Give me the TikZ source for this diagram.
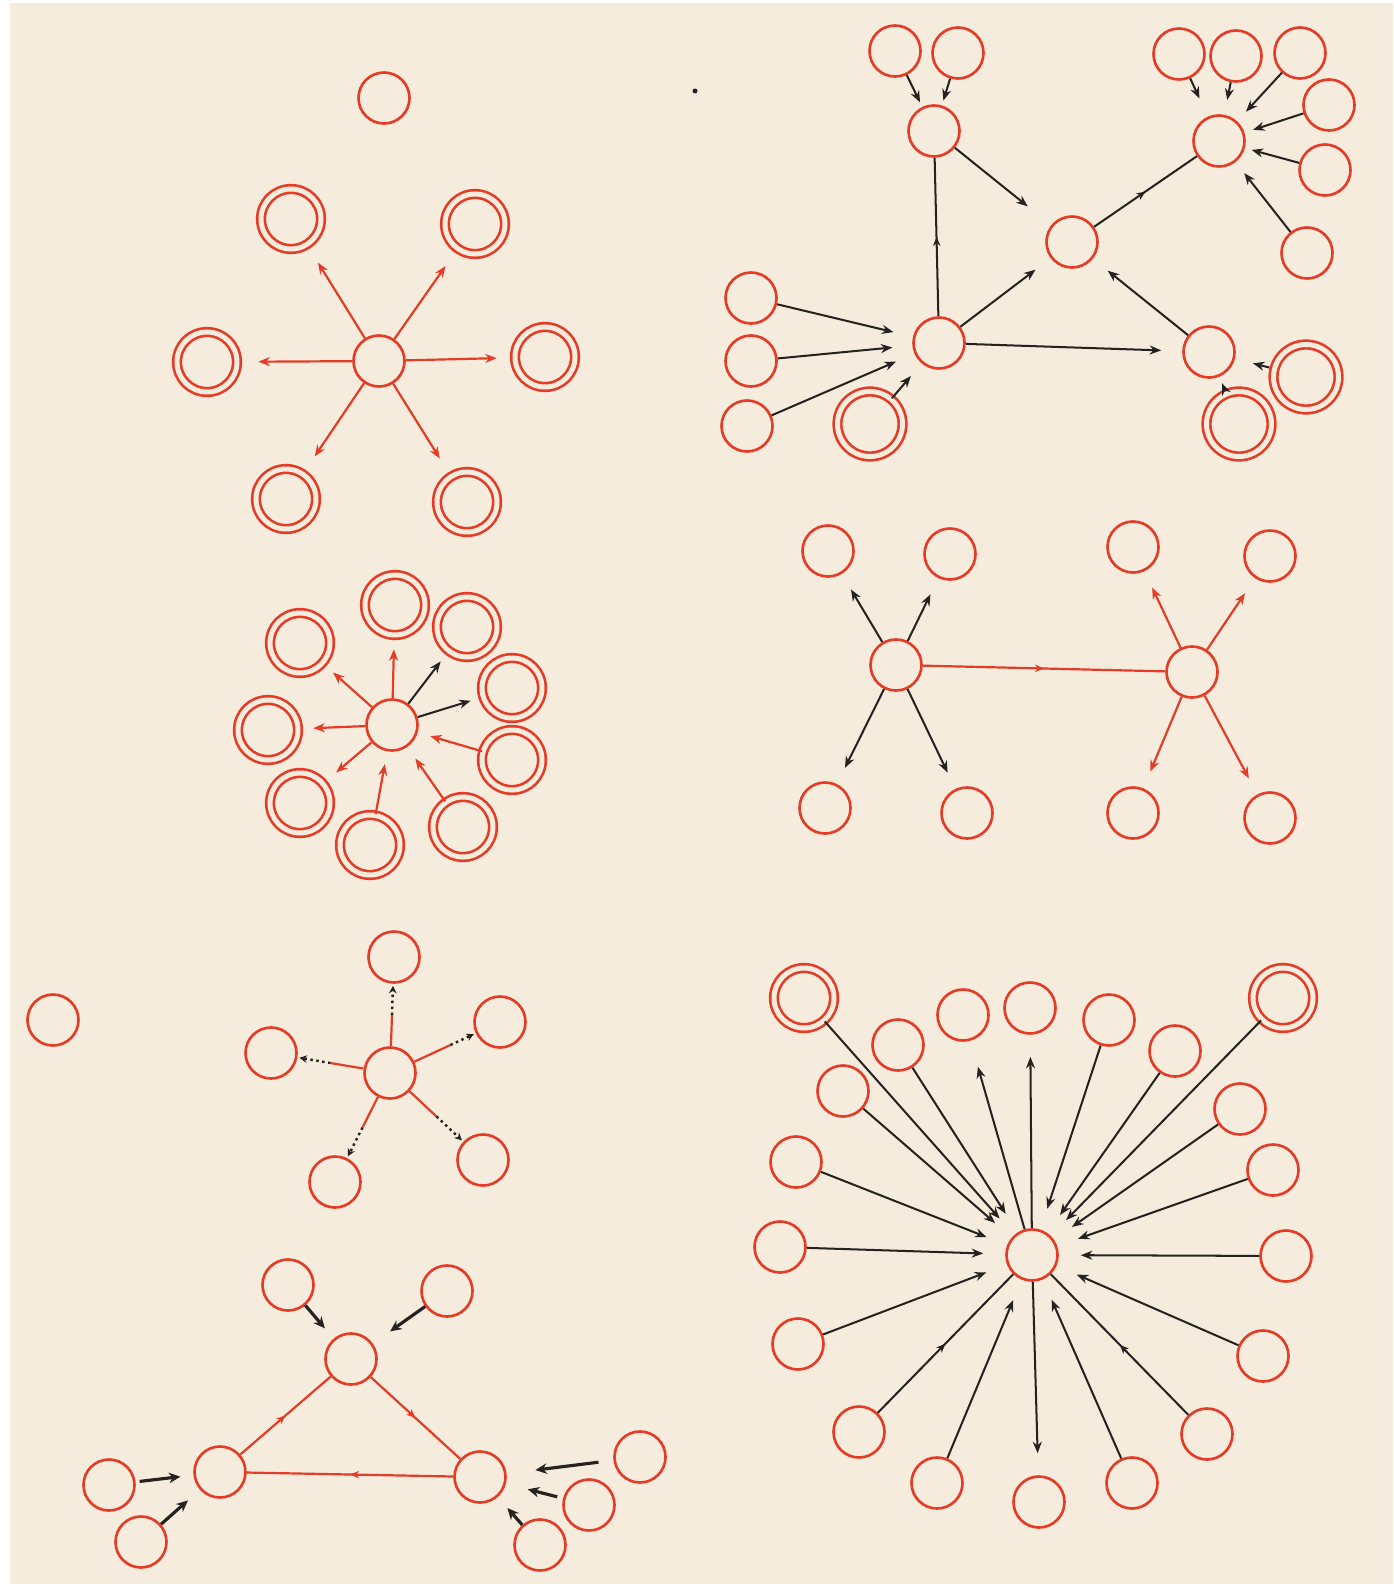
\documentclass[tikz,border=0pt]{standalone}
\usepackage{tikz}
\usetikzlibrary{arrows.meta, positioning, calc, decorations.markings}

\definecolor{paper}{RGB}{245,236,221}
\definecolor{inkred}{RGB}{228,60,38}
\definecolor{inkdark}{RGB}{38,34,32}

\begin{document}
\begin{tikzpicture}[
    x=0.2mm, y=-0.2mm,
    % Define styles
    cell/.style={circle, draw=inkred, line width=1.5pt, minimum size=10.2mm, inner sep=0pt},
    ringcell/.style={cell, minimum size=12mm, double=paper, double distance=1mm},
    bigring/.style={cell, minimum size=13mm, double=paper, double distance=1mm},
    redarrow/.style={-{Stealth[length=2.3mm, width=1.8mm]}, line width=1.25pt, draw=inkred},
    inkarrow/.style={-{Stealth[length=2.3mm, width=1.8mm]}, line width=1.15pt, draw=inkdark},
    fatarrow/.style={-{Stealth[length=2.3mm, width=2.1mm]}, line width=1.8pt, draw=inkdark},
    redline/.style={line width=1.25pt, draw=inkred},
    inkline/.style={line width=1.15pt, draw=inkdark},
    dotlink/.style={-{Stealth[length=1.5mm, width=1.5mm]}, line width=1.4pt, draw=inkdark, dotted},
    midarrow/.style={postaction={decorate}, decoration={markings, mark=at position 0.5 with {\arrow{Stealth[length=1.8mm, width=1.5mm]}}}}
]

    % Page
    \useasboundingbox (0,0) rectangle (1393,1584);
    \fill[white] (0,0) rectangle (1393,1584);
    \fill[paper] (10,3) rectangle (1393,1584);

    % 1. Star of six rings (top left)
    \node[cell] (aLone) at (384,98) {};
    \node[cell] (aHub) at (379,361) {};
    \node[ringcell] (aUL) at (291,219) {};
    \node[ringcell] (aUR) at (475,224) {};
    \node[ringcell] (aL) at (207,362) {};
    \node[ringcell] (aR) at (545,357) {};
    \node[ringcell] (aLL) at (286,499) {};
    \node[ringcell] (aLR) at (467,502) {};

    \draw[redarrow, shorten >=4mm] (aHub) -- (aUL);
    \draw[redarrow, shorten >=4mm] (aHub) -- (aUR);
    \draw[redarrow, shorten >=4mm] (aHub) -- (aL);
    \draw[redarrow, shorten >=3.4mm] (aHub) -- (aR);
    \draw[redarrow, shorten >=4mm] (aHub) -- (aLL);
    \draw[redarrow, shorten >=4mm] (aHub) -- (aLR);

    % 2. Network (top right)
    \fill[inkdark] (695,91) circle[radius=0.5mm];
    \node[cell] (bS1) at (895,51) {};
    \node[cell] (bS2) at (958,53) {};
    \node[cell] (bT1) at (934,131) {};
    \node[cell] (bM) at (1072,242) {};
    \node[cell] (bB1) at (939,343) {};
    \node[cell] (bB2) at (1209,352) {};
    \node[cell] (bT2) at (1219,141) {};
    \node[cell] (bR1) at (1179,54) {};
    \node[cell] (bR2) at (1236,56) {};
    \node[cell] (bR3) at (1300,53) {};
    \node[cell] (bR4) at (1329,105) {};
    \node[cell] (bR5) at (1325,170) {};
    \node[cell] (bR6) at (1307,253) {};
    \node[cell] (bL1) at (751,298) {};
    \node[cell] (bL2) at (751,361) {};
    \node[cell] (bL3) at (747,426) {};
    \node[bigring] (bL4) at (870,424) {};
    \node[bigring] (bD1) at (1306,377) {};
    \node[bigring] (bD2) at (1239,424) {};

    \draw[inkarrow, shorten >=1mm] (bS1) -- (bT1);
    \draw[inkarrow, shorten >=1mm] (bS2) -- (bT1);
    \draw[inkarrow, shorten >=6mm] (bT1) -- (bM);
    \draw[inkline, midarrow] (bB1) -- (bT1);
    \draw[inkarrow, shorten >=3.8mm] (bB1) -- (bM);
    \draw[inkarrow, shorten >=3.8mm] (bB2) -- (bM);
    \draw[inkarrow, shorten >=4.2mm] (bB1) -- (bB2);
    \draw[inkline, midarrow] (bM) -- (bT2);
    \draw[inkarrow, shorten >=4mm] (bR1) -- (bT2);
    \draw[inkarrow, shorten >=3mm] (bR2) -- (bT2);
    \draw[inkarrow, shorten >=2.6mm] (bR3) -- (bT2);
    \draw[inkarrow, shorten >=1.8mm] (bR4) -- (bT2);
    \draw[inkarrow, shorten >=1.4mm] (bR5) -- (bT2);
    \draw[inkarrow, shorten >=2.8mm] (bR6) -- (bT2);
    \draw[inkarrow, shorten >=4mm] (bL1) -- (bB1);
    \draw[inkarrow, shorten >=4mm] (bL2) -- (bB1);
    \draw[inkarrow, shorten >=4mm] (bL3) -- (bB1);
    \draw[inkarrow, shorten >=3.3mm] (bL4) -- (bB1);
    \draw[inkarrow, shorten <=0.8mm, shorten >=3.7mm] (bD1) -- (bB2);
    \draw[inkarrow, shorten <=0.4mm, shorten >=1.4mm] (bD2) -- (bB2);

    % 3. Ring of nine (middle left)
    \node[cell] (cHub) at (392,725) {};
    \node[ringcell] (cT) at (395,605) {};
    \node[ringcell] (cTR) at (467,627) {};
    \node[ringcell] (cRU) at (512,688) {};
    \node[ringcell] (cRL) at (512,760) {};
    \node[ringcell] (cLR) at (463,827) {};
    \node[ringcell] (cB) at (370,845) {};
    \node[ringcell] (cLL) at (300,803) {};
    \node[ringcell] (cL) at (268,730) {};
    \node[ringcell] (cUL) at (300,643) {};

    \draw[redarrow, shorten >=2.6mm] (cHub) -- (cT);
    \draw[redarrow, shorten >=2.6mm] (cHub) -- (cUL);
    \draw[redarrow, shorten >=2.8mm] (cHub) -- (cL);
    \draw[redarrow, shorten >=3.2mm] (cHub) -- (cLL);
    \draw[inkarrow, shorten >=2.4mm] (cHub) -- (cTR);
    \draw[inkarrow, shorten >=2.4mm] (cHub) -- (cRU);
    \draw[redarrow, shorten >=2.6mm] (cRL) -- (cHub);
    \draw[redarrow, shorten >=2.8mm] (cLR) -- (cHub);
    \draw[redarrow, shorten >=2.6mm] (cB) -- (cHub);

    % 4. Two linked stars (middle right)
    \node[cell] (dHubL) at (896,665) {};
    \node[cell] (dHubR) at (1192,672) {};
    \node[cell] (dLUL) at (828,551) {};
    \node[cell] (dLUR) at (950,554) {};
    \node[cell] (dLLL) at (825,808) {};
    \node[cell] (dLLR) at (967,813) {};
    \node[cell] (dRUL) at (1133,547) {};
    \node[cell] (dRUR) at (1270,556) {};
    \node[cell] (dRLL) at (1133,813) {};
    \node[cell] (dRLR) at (1270,818) {};

    \draw[redline, midarrow] (dHubL) -- (dHubR);
    \draw[inkarrow, shorten >=3.6mm] (dHubL) -- (dLUL);
    \draw[inkarrow, shorten >=3.6mm] (dHubL) -- (dLUR);
    \draw[inkarrow, shorten >=3.6mm] (dHubL) -- (dLLL);
    \draw[inkarrow, shorten >=3.6mm] (dHubL) -- (dLLR);
    \draw[redarrow, shorten >=3.6mm] (dHubR) -- (dRUL);
    \draw[redarrow, shorten >=3.6mm] (dHubR) -- (dRUR);
    \draw[redarrow, shorten >=3.6mm] (dHubR) -- (dRLL);
    \draw[redarrow, shorten >=3.6mm] (dHubR) -- (dRLR);

    % 5. Dotted star (lower left)
    \node[cell] (eLone) at (53,1020) {};
    \node[cell] (eHub) at (390,1073) {};
    \node[cell] (eT) at (394,957) {};
    \node[cell] (eL) at (271,1053) {};
    \node[cell] (eUR) at (500,1022) {};
    \node[cell] (eLL) at (335,1182) {};
    \node[cell] (eLR) at (483,1160) {};

    \coordinate (eTm) at ($(eHub)!0.5!(eT)$);
    \coordinate (eLm) at ($(eHub)!0.5!(eL)$);
    \coordinate (eURm) at ($(eHub)!0.55!(eUR)$);
    \coordinate (eLLm) at ($(eHub)!0.5!(eLL)$);
    \coordinate (eLRm) at ($(eHub)!0.5!(eLR)$);
    \draw[redline] (eHub) -- (eTm);
    \draw[redline] (eHub) -- (eLm);
    \draw[redline] (eHub) -- (eURm);
    \draw[redline] (eHub) -- (eLLm);
    \draw[redline] (eHub) -- (eLRm);
    \draw[dotlink, shorten >=0.4mm] (eTm) -- (eT);
    \draw[dotlink, shorten >=0.4mm] (eLm) -- (eL);
    \draw[dotlink, shorten >=0.4mm] (eURm) -- (eUR);
    \draw[dotlink, shorten >=0.4mm] (eLLm) -- (eLL);
    \draw[dotlink, shorten >=0.4mm] (eLRm) -- (eLR);

    % 6. Triangle (bottom left)
    \node[cell] (fTop) at (351,1359) {};
    \node[cell] (fLeft) at (220,1472) {};
    \node[cell] (fRight) at (480,1477) {};
    \node[cell] (fS1) at (288,1285) {};
    \node[cell] (fS2) at (447,1291) {};
    \node[cell] (fS3) at (109,1485) {};
    \node[cell] (fS4) at (141,1542) {};
    \node[cell] (fS5) at (640,1457) {};
    \node[cell] (fS6) at (589,1505) {};
    \node[cell] (fS7) at (540,1545) {};

    \draw[redline, midarrow] (fLeft) -- (fTop);
    \draw[redline, midarrow] (fTop) -- (fRight);
    \draw[redline, midarrow] (fRight) -- (fLeft);
    \draw[fatarrow, shorten >=2.7mm] (fS1) -- (fTop);
    \draw[fatarrow, shorten >=4.2mm] (fS2) -- (fTop);
    \draw[fatarrow, shorten <=0.8mm, shorten >=2.6mm] (fS3) -- (fLeft);
    \draw[fatarrow, shorten >=3.2mm] (fS4) -- (fLeft);
    \draw[fatarrow, shorten <=3mm, shorten >=5.8mm] (fS5) -- (fRight);
    \draw[fatarrow, shorten <=1.2mm, shorten >=4.5mm] (fS6) -- (fRight);
    \draw[fatarrow, shorten >=2.9mm] (fS7) -- (fRight);

    % 7. Big star of twenty (bottom right)
    \node[cell] (gHub) at (1032,1255) {};
    \node[ringcell] (g1) at (804,998) {};
    \node[cell] (g2) at (898,1045) {};
    \node[cell] (g3) at (963,1015) {};
    \node[cell] (g4) at (1030,1008) {};
    \node[cell] (g5) at (1109,1020) {};
    \node[cell] (g6) at (1175,1051) {};
    \node[ringcell] (g7) at (1283,998) {};
    \node[cell] (g8) at (1240,1109) {};
    \node[cell] (g9) at (1273,1170) {};
    \node[cell] (g10) at (1286,1256) {};
    \node[cell] (g11) at (1263,1356) {};
    \node[cell] (g12) at (1207,1434) {};
    \node[cell] (g13) at (1132,1483) {};
    \node[cell] (g14) at (1039,1502) {};
    \node[cell] (g15) at (937,1483) {};
    \node[cell] (g16) at (859,1432) {};
    \node[cell] (g17) at (798,1344) {};
    \node[cell] (g18) at (780,1247) {};
    \node[cell] (g19) at (796,1162) {};
    \node[cell] (g20) at (843,1091) {};

    % Most satellites feed the hub
    \draw[inkarrow, shorten >=4.4mm] (g1) -- (gHub);
    \draw[inkarrow, shorten >=4.4mm] (g2) -- (gHub);
    \draw[inkarrow, shorten >=4.4mm] (g5) -- (gHub);
    \draw[inkarrow, shorten >=4.4mm] (g6) -- (gHub);
    \draw[inkarrow, shorten >=4.4mm] (g7) -- (gHub);
    \draw[inkarrow, shorten >=4.4mm] (g8) -- (gHub);
    \draw[inkarrow, shorten >=4.4mm] (g9) -- (gHub);
    \draw[inkarrow, shorten >=4.4mm] (g10) -- (gHub);
    \draw[inkarrow, shorten >=4.4mm] (g11) -- (gHub);
    \draw[inkline, midarrow] (g12) -- (gHub);
    \draw[inkarrow, shorten >=4.4mm] (g13) -- (gHub);
    \draw[inkarrow, shorten >=4.4mm] (g15) -- (gHub);
    \draw[inkline, midarrow] (g16) -- (gHub);
    \draw[inkarrow, shorten >=4.4mm] (g17) -- (gHub);
    \draw[inkarrow, shorten >=4.4mm] (g18) -- (gHub);
    \draw[inkarrow, shorten >=4.4mm] (g19) -- (gHub);
    \draw[inkarrow, shorten >=4.4mm] (g20) -- (gHub);
    % Three go out
    \draw[inkarrow, shorten >=5.4mm] (gHub) -- (g3);
    \draw[inkarrow, shorten >=4.4mm] (gHub) -- (g4);
    \draw[inkarrow, shorten >=4.4mm] (gHub) -- (g14);

\end{tikzpicture}
\end{document}
